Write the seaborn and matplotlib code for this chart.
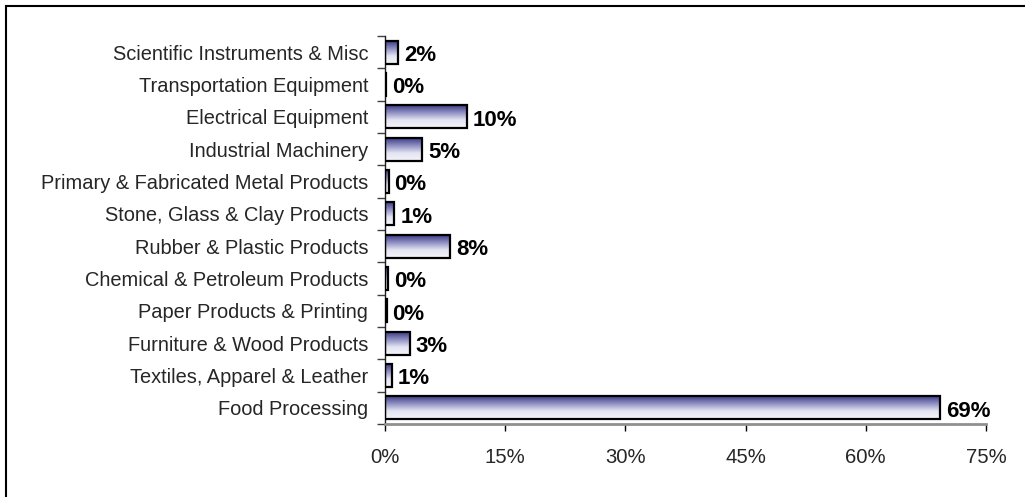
import matplotlib
matplotlib.use("Agg")
import matplotlib.pyplot as plt
import seaborn as sns
import numpy as np
import pandas as pd
from matplotlib.colors import LinearSegmentedColormap
from matplotlib.patches import Rectangle
from matplotlib.ticker import FixedLocator

categories = [
    "Scientific Instruments & Misc",
    "Transportation Equipment",
    "Electrical Equipment",
    "Industrial Machinery",
    "Primary & Fabricated Metal Products",
    "Stone, Glass & Clay Products",
    "Rubber & Plastic Products",
    "Chemical & Petroleum Products",
    "Paper Products & Printing",
    "Furniture & Wood Products",
    "Textiles, Apparel & Leather",
    "Food Processing",
]
values = [1.6, 0.1, 10.2, 4.6, 0.45, 1.15, 8.1, 0.4, 0.2, 3.1, 0.85, 69.3]
xticks = [0, 15, 30, 45, 60, 75]

sns.set_theme(style="white")
plt.rcParams["font.family"] = ["Liberation Sans", "DejaVu Sans"]

df = pd.DataFrame({"category": categories, "value": values})

fig = plt.figure(figsize=(10.25, 4.97), dpi=100)
ax = fig.add_axes([385 / 1025, 1 - 424 / 497, (986 - 385) / 1025, (424 - 36) / 497])

sns.barplot(data=df, x="value", y="category", orient="h", ax=ax,
            width=0.72, color="#5050a0", saturation=1)

cmap = LinearSegmentedColormap.from_list("grad", ["#30307c", "#8a8ac0", "#e4e4f2", "#f4f4fa"])
grad = np.linspace(0, 1, 256).reshape(-1, 1)
for p in ax.patches:
    x0, y0 = p.get_x(), p.get_y()
    w, h = p.get_width(), p.get_height()
    im = ax.imshow(grad, cmap=cmap, aspect="auto",
                   extent=[x0, x0 + w, y0 + h, y0], origin="upper", zorder=2)
    im.set_clip_path(p)
    p.set_facecolor("none")
    p.set_edgecolor("black")
    p.set_linewidth(1.6)
    p.set_zorder(3)

for i, v in enumerate(values):
    ax.text(v + 0.75, i + 0.1, f"{v:.0f}%", va="center", ha="left",
            fontsize=16, fontweight="bold", color="black")

ax.set_xlim(0, 75)
ax.set_ylim(len(categories) - 0.5, -0.5)
ax.set_xticks(xticks)
ax.set_xticklabels([f"{t}%" for t in xticks], fontsize=14.6)
ax.set_yticks(range(len(categories)))
ax.set_yticklabels(categories, fontsize=14.4)
ax.yaxis.set_minor_locator(FixedLocator(np.arange(-0.5, len(categories), 1.0)))
ax.tick_params(axis="y", which="major", length=0, pad=12)
ax.tick_params(axis="y", which="minor", left=True, length=6, width=1, color="#404040")
ax.tick_params(axis="x", which="major", bottom=True, length=5, width=1, color="black",
               pad=12, direction="out")
ax.set_xlabel("")
ax.set_ylabel("")
for s in ["top", "right"]:
    ax.spines[s].set_visible(False)
ax.spines["left"].set_color("#202020")
ax.spines["left"].set_linewidth(1)
ax.spines["bottom"].set_color("#909090")
ax.spines["bottom"].set_linewidth(2)
ax.grid(False)

fig.add_artist(Rectangle((6 / 1025, -0.1), 1.2, 1 - 6 / 497 + 0.1,
                         transform=fig.transFigure, fill=False,
                         edgecolor="black", linewidth=1.5))

fig.savefig("out.png", dpi=100)
